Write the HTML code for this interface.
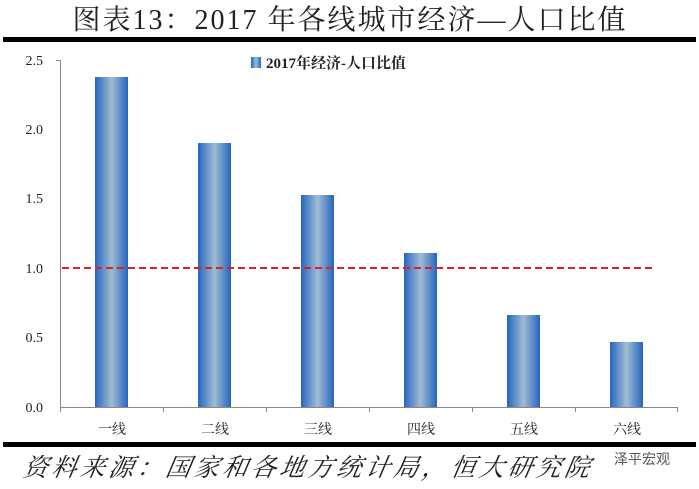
<html><head><style>body{margin:0;background:#fff;width:699px;height:489px;overflow:hidden}</style></head><body>
<svg width="699" height="489" xmlns="http://www.w3.org/2000/svg">
<defs><linearGradient id="g" x1="0" x2="1" y1="0" y2="0"><stop offset="0" stop-color="#2565c0"/><stop offset="0.5" stop-color="#a0bcd2"/><stop offset="1" stop-color="#2565c0"/></linearGradient></defs>
<text x="350" y="29" text-anchor="middle" font-family="Liberation Serif,'Noto Serif CJK SC',serif" font-size="28" letter-spacing="2" fill="#222">图表13：2017 年各线城市经济—人口比值</text>
<rect x="3" y="37" width="693" height="5" fill="#000"/>
<rect x="3" y="442" width="693" height="5" fill="#000"/>
<g font-family="Liberation Serif,serif" font-size="14" fill="#222" text-anchor="end">
<text x="43" y="65">2.5</text><text x="43" y="134">2.0</text><text x="43" y="203">1.5</text><text x="43" y="273">1.0</text><text x="43" y="342">0.5</text><text x="43" y="412">0.0</text></g>
<g stroke="#888" stroke-width="1">
<line x1="60.5" y1="60" x2="60.5" y2="407"/><line x1="56" y1="60.5" x2="60" y2="60.5"/>
<line x1="60" y1="407.5" x2="677" y2="407.5"/>
<line x1="60.5" y1="407" x2="60.5" y2="412"/><line x1="163.5" y1="407" x2="163.5" y2="412"/><line x1="266.5" y1="407" x2="266.5" y2="412"/><line x1="369.5" y1="407" x2="369.5" y2="412"/><line x1="472.5" y1="407" x2="472.5" y2="412"/><line x1="575.5" y1="407" x2="575.5" y2="412"/><line x1="677.5" y1="407" x2="677.5" y2="412"/></g>
<g fill="url(#g)">
<rect x="95" y="77" width="33" height="330"/><rect x="198" y="143" width="33" height="264"/><rect x="301" y="195" width="33" height="212"/><rect x="404" y="253" width="33" height="154"/><rect x="507" y="315" width="33" height="92"/><rect x="610" y="342" width="33" height="65"/></g>
<line x1="62" y1="268" x2="652" y2="268" stroke="#e02020" stroke-width="2" stroke-dasharray="7,4"/>
<rect x="251" y="57" width="10" height="11" fill="url(#g)"/>
<text x="266" y="68" font-family="Liberation Serif,'Noto Serif CJK SC',serif" font-weight="bold" font-size="15" fill="#222">2017年经济-人口比值</text>
<g font-family="'Noto Serif CJK SC',serif" font-size="14" fill="#222" text-anchor="middle">
<text x="112" y="434">一线</text><text x="215" y="434">二线</text><text x="318" y="434">三线</text><text x="421" y="434">四线</text><text x="524" y="434">五线</text><text x="627" y="434">六线</text></g>
<text x="22" y="476" font-family="'Noto Serif CJK SC',serif" font-style="italic" font-size="25" letter-spacing="3.5" fill="#222" transform="skewX(-10) translate(84,0)">资料来源：国家和各地方统计局，恒大研究院</text>
<text x="614" y="464" font-family="'Noto Sans CJK SC',sans-serif" font-size="14" fill="#555">泽平宏观</text>
</svg></body></html>
